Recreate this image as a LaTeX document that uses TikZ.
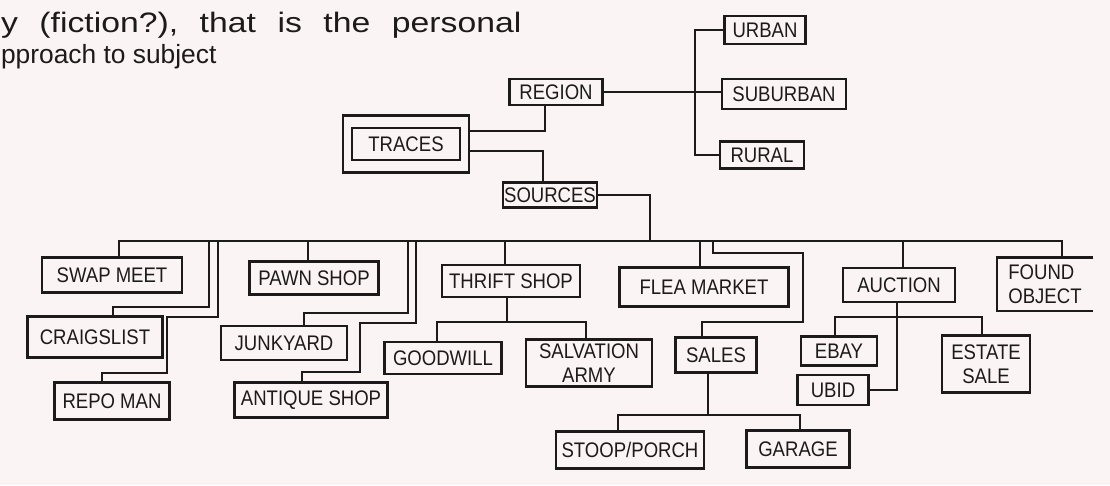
\documentclass[tikz,border=0pt]{standalone}
\usepackage{fontspec}
\setmainfont{Liberation Sans}
\newfontfamily\notefont{Liberation Sans}[FakeStretch=1.2,WordSpace=2.3]
\newfontfamily\boxfont{Liberation Sans}[FakeStretch=0.88]
\usetikzlibrary{fit}
\definecolor{paper}{HTML}{FAF5F4}
\definecolor{ink}{HTML}{1C1A1A}
\begin{document}
\begin{tikzpicture}[x=0.02cm,y=-0.02cm,line width=1.2pt,color=ink,
    box/.style={draw,inner sep=0pt,align=center,font=\boxfont\fontsize{12}{13.5}\selectfont},
    boxsize/.style 2 args={minimum width=#1*0.02cm,minimum height=#2*0.02cm}]
  \fill[paper] (0,0) rectangle (1110,485);
  \useasboundingbox (0,0) rectangle (1110,485);
  \node[anchor=base west,inner sep=0pt,font=\notefont\fontsize{16}{19}\selectfont] (note1) at (0,32) {y (fiction?), that is the personal};
  \node[anchor=base west,inner sep=0pt,font=\fontsize{15}{18}\selectfont] (note2) at (0,63) {pproach to subject};

  \node[box,boxsize={93}{26}] (region) at (556,92) {REGION};
  \node[box,boxsize={108}{32}] (traces) at (406,144) {TRACES};
  \node[box,fit=(traces),inner xsep=4.5pt,inner ysep=6.5pt] (tracesframe) {};
  \node[box,boxsize={94}{25}] (sources) at (550,195) {SOURCES};
  \node[box,boxsize={81}{28}] (urban) at (765,30) {URBAN};
  \node[box,boxsize={124}{30}] (suburban) at (784,94) {SUBURBAN};
  \node[box,boxsize={84}{27}] (rural) at (762,155) {RURAL};
  \node[box,boxsize={140}{35}] (swapmeet) at (112,275) {SWAP MEET};
  \node[box,boxsize={135}{41}] (craigslist) at (95,337) {CRAIGSLIST};
  \node[box,boxsize={115}{37}] (repoman) at (112,401) {REPO MAN};
  \node[box,boxsize={129}{33}] (pawnshop) at (314,278) {PAWN SHOP};
  \node[box,boxsize={126}{34}] (junkyard) at (284,343) {JUNKYARD};
  \node[box,boxsize={153}{35}] (antiqueshop) at (311,400) {ANTIQUE SHOP};
  \node[box,boxsize={138}{32}] (thriftshop) at (511,281) {THRIFT SHOP};
  \node[box,boxsize={117}{32}] (goodwill) at (443,358) {GOODWILL};
  \node[box,boxsize={126}{47}] (salvation) at (589,363) {SALVATION\\ARMY};
  \node[box,boxsize={169}{39}] (fleamarket) at (704,287) {FLEA MARKET};
  \node[box,boxsize={81}{35}] (sales) at (716,355) {SALES};
  \node[box,boxsize={148}{37}] (stoopporch) at (630,450) {STOOP/PORCH};
  \node[box,boxsize={103}{37}] (garage) at (798,449) {GARAGE};
  \node[box,boxsize={112}{34}] (auction) at (899,285) {AUCTION};
  \node[box,boxsize={76}{29}] (ebay) at (839,351) {EBAY};
  \node[box,boxsize={71}{30}] (ubid) at (833,390) {UBID};
  \node[box,boxsize={88}{57}] (estatesale) at (986,364) {ESTATE\\SALE};
  \node[box,draw=none,boxsize={94}{51},align=left] (foundobject) at (1045,284) {FOUND\\OBJECT};
  \draw (foundobject.north east) -- (foundobject.north west) -- (foundobject.south west) -- (foundobject.south east);

  \coordinate (regionbar) at (695,92);
  \coordinate (busleft) at (119,241);
  \coordinate (busright) at (1062,241);
  \coordinate (bushub) at (650,241);

  \draw (region.east) -- (suburban.west |- region.east);
  \draw (urban.west) -| (regionbar) |- (rural.west);
  \draw (tracesframe.east |- 0,131) -| (region.south -| 545,0);
  \draw (tracesframe.east |- 0,151) -| (sources.north -| 543,0);
  \draw (sources.east) -| (bushub);
  \draw (swapmeet.north -| busleft) -- (busleft) -- (busright) -- (foundobject.north -| busright);
  \draw (craigslist.north -| 113,0) |- (209,307) -- (209,241);
  \draw (repoman.north -| 102,0) |- (167,373) |- (218,317) -- (218,241);
  \draw (pawnshop.north -| 308,0) -- (308,241);
  \draw (junkyard.north -| 304,0) |- (408,313) -- (408,241);
  \draw (antiqueshop.north -| 302,0) |- (360,372) |- (416,323) -- (416,241);
  \draw (thriftshop.north -| 505,0) -- (505,241);
  \draw (thriftshop.south -| 507,0) -- (507,322);
  \draw (goodwill.north -| 437,0) |- (586,322) -- (salvation.north -| 586,0);
  \draw (fleamarket.north -| 700,0) -- (700,241);
  \draw (713,241) |- (803,253) |- (702,322) -- (sales.north -| 702,0);
  \draw (sales.south -| 708,0) -- (708,415);
  \draw (stoopporch.north -| 618,0) |- (800,415) -- (garage.north -| 800,0);
  \draw (auction.north -| 903,0) -- (903,241);
  \draw (auction.south -| 897,0) |- (ubid.east);
  \draw (ebay.north -| 835,0) |- (982,317) -- (estatesale.north -| 982,0);
\end{tikzpicture}
\end{document}
